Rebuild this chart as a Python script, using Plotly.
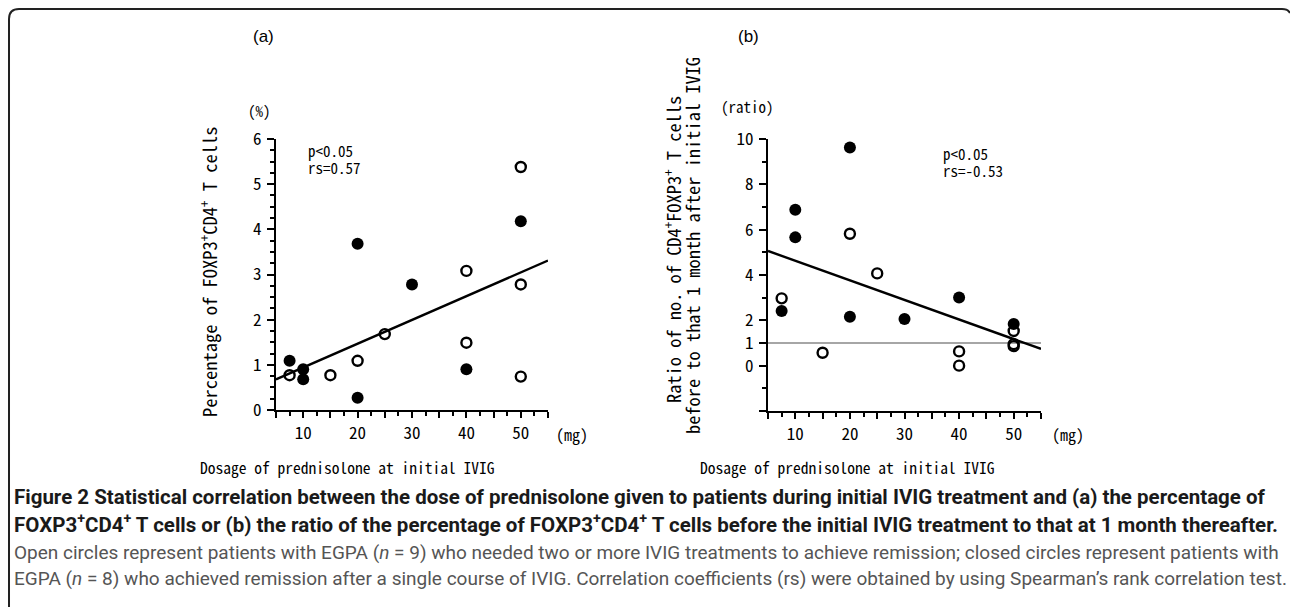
import plotly.graph_objects as go

# ---------------- data ----------------
# Panel (a): percentage of FOXP3+CD4+ T cells vs prednisolone dose (mg)
a_closed_x = [7.5, 10, 10, 20, 20, 30, 40, 50]
a_closed_y = [1.09, 0.90, 0.68, 3.68, 0.27, 2.78, 0.90, 4.18]
a_open_x = [7.5, 15, 20, 25, 40, 40, 50, 50, 50]
a_open_y = [0.77, 0.77, 1.09, 1.68, 3.08, 1.49, 5.38, 2.78, 0.74]
a_fit_x = [5, 55]
a_fit_y = [0.68, 3.31]

# Panel (b): ratio before / 1 month after initial IVIG
b_closed_x = [7.5, 10, 10, 20, 20, 30, 40, 50]
b_closed_y = [2.41, 6.88, 5.66, 9.63, 2.16, 2.06, 3.01, 1.84]
b_open_x = [7.5, 15, 20, 25, 40, 40, 50, 50, 50]
b_open_y = [2.97, 0.57, 5.82, 4.07, 0.63, 0.00, 1.53, 0.95, 0.86]
b_fit_x = [5, 55]
b_fit_y = [5.06, 0.74]
b_ref_x = [5, 55]
b_ref_y = [1, 1]

x_tickvals = [5, 10, 15, 20, 25, 30, 35, 40, 45, 50, 55]
x_ticktext = ["", "10", "", "20", "", "30", "", "40", "", "50", ""]
a_y_tickvals = [0, 1, 2, 3, 4, 5, 6]
a_y_ticktext = ["0", "1", "2", "3", "4", "5", "6"]
b_y_tickvals = [-2, 0, 1, 2, 4, 6, 8, 10]
b_y_ticktext = ["", "0", "1", "2", "4", "6", "8", "10"]

# ---------------- layout helpers ----------------
W, H = 1290, 607
def px(x):
    return x / W
def py(y):
    return 1 - y / H

MONO = "Noto Sans Mono CJK JP, Noto Sans Mono CJK SC, DejaVu Sans Mono, monospace"
CAP = "Roboto, Liberation Sans, sans-serif"

closed_marker = dict(symbol="circle", size=12, color="black")
open_marker = dict(symbol="circle-open", size=10, color="black", line=dict(width=2.4, color="black"))

fig = go.Figure()
# panel a
fig.add_trace(go.Scatter(x=a_fit_x, y=a_fit_y, mode="lines", line=dict(color="black", width=2.4),
                         xaxis="x", yaxis="y", showlegend=False, hoverinfo="skip"))
fig.add_trace(go.Scatter(x=a_closed_x, y=a_closed_y, mode="markers", marker=closed_marker,
                         xaxis="x", yaxis="y", showlegend=False, cliponaxis=False))
fig.add_trace(go.Scatter(x=a_open_x, y=a_open_y, mode="markers", marker=open_marker,
                         xaxis="x", yaxis="y", showlegend=False, cliponaxis=False))
# panel b
fig.add_trace(go.Scatter(x=b_ref_x, y=b_ref_y, mode="lines", line=dict(color="#a6a6a6", width=2),
                         xaxis="x2", yaxis="y2", showlegend=False, hoverinfo="skip"))
fig.add_trace(go.Scatter(x=b_fit_x, y=b_fit_y, mode="lines", line=dict(color="black", width=2.4),
                         xaxis="x2", yaxis="y2", showlegend=False, hoverinfo="skip"))
fig.add_trace(go.Scatter(x=b_closed_x, y=b_closed_y, mode="markers", marker=closed_marker,
                         xaxis="x2", yaxis="y2", showlegend=False, cliponaxis=False))
fig.add_trace(go.Scatter(x=b_open_x, y=b_open_y, mode="markers", marker=open_marker,
                         xaxis="x2", yaxis="y2", showlegend=False, cliponaxis=False))

tickfont = dict(family=MONO, size=17, color="black")

def xaxis_cfg(domain, anchor):
    return dict(domain=domain, anchor=anchor, range=[5, 55], showgrid=False, zeroline=False,
                showline=True, linecolor="black", linewidth=2, automargin=False,
                tickmode="array", tickvals=x_tickvals, ticktext=x_ticktext,
                ticks="outside", ticklen=6, tickwidth=2, tickcolor="black",
                minor=dict(tick0=0, dtick=2.5, ticks="outside", ticklen=4, tickwidth=1.5, tickcolor="black"),
                tickfont=tickfont, ticklabelstandoff=1, fixedrange=True)

def yaxis_cfg(domain, anchor, rng, tv, tt, mdt):
    return dict(domain=domain, anchor=anchor, range=rng, showgrid=False, zeroline=False,
                showline=True, linecolor="black", linewidth=2, automargin=False,
                tickmode="array", tickvals=tv, ticktext=tt,
                ticks="outside", ticklen=7, tickwidth=2, tickcolor="black",
                minor=dict(dtick=mdt, ticks="outside", ticklen=4, tickwidth=1.5, tickcolor="black"),
                tickfont=tickfont, ticklabelstandoff=2, fixedrange=True)

annotations = []
def ann(x, y, text, size=17, family=MONO, xanchor="center", yanchor="middle", angle=0, color="black", weight=None):
    f = dict(family=family, size=size, color=color)
    if weight:
        f["weight"] = weight
    annotations.append(dict(x=px(x), y=py(y), xref="paper", yref="paper", text=text, showarrow=False,
                            xanchor=xanchor, yanchor=yanchor, textangle=angle, font=f))

# panel labels
ann(263, 37, "(a)", size=17, family="Liberation Sans, Arial, sans-serif")
ann(748, 37, "(b)", size=17, family="Liberation Sans, Arial, sans-serif")
# units
ann(259, 110, "(%)", size=15)
ann(747, 106, "(ratio)", size=15)
ann(572, 434, "(mg)", size=16)
ann(1068, 434, "(mg)", size=16)
# stats
ann(306, 151, "p&lt;0.05", size=15, xanchor="left")
ann(306, 168, "rs=0.57", size=15, xanchor="left")
ann(941, 153, "p&lt;0.05", size=15, xanchor="left")
ann(941, 170, "rs=-0.53", size=15, xanchor="left")
# y titles
ann(208, 272, "Percentage of FOXP3<sup>+</sup>CD4<sup>+</sup> T cells", size=18.5, angle=-90)
ann(672, 250, "Ratio of no. of CD4<sup>+</sup>FOXP3<sup>+</sup> T cells", size=18.4, angle=-90)
ann(692, 246, "before to that 1 month after initial IVIG", size=18.4, angle=-90)
# x titles
ann(347, 467, "Dosage of prednisolone at initial IVIG", size=15.5)
ann(847, 467, "Dosage of prednisolone at initial IVIG", size=15.5)

# caption
cap1 = ("Figure 2 Statistical correlation between the dose of prednisolone given to patients during initial "
        "IVIG treatment and (a) the percentage of")
cap2 = ("FOXP3<sup>+</sup>CD4<sup>+</sup> T cells or (b) the ratio of the percentage of FOXP3<sup>+</sup>CD4<sup>+</sup> "
        "T cells before the initial IVIG treatment to that at 1 month thereafter.")
cap3 = ("Open circles represent patients with EGPA (<i>n</i> = 9) who needed two or more IVIG treatments to "
        "achieve remission; closed circles represent patients with")
cap4 = ("EGPA (<i>n</i> = 8) who achieved remission after a single course of IVIG. Correlation coefficients (rs) "
        "were obtained by using Spearman\u2019s rank correlation test.")
ann(12, 497, cap1, size=20.5, family=CAP, xanchor="left", weight="bold", color="#1a1a1a")
ann(12, 523, cap2, size=20.5, family=CAP, xanchor="left", weight="bold", color="#1a1a1a")
ann(12, 552, cap3, size=19, family=CAP, xanchor="left", color="#555555")
ann(12, 578, cap4, size=19, family=CAP, xanchor="left", color="#555555")

# rounded frame
def pt(x, y):
    return f"{px(x):.5f},{py(y):.5f}"
frame_path = (f"M {pt(9, 607)} L {pt(9, 19)} Q {pt(9, 9)} {pt(19, 9)} "
              f"L {pt(1282, 9)} Q {pt(1288, 9)} {pt(1290, 13)}")

fig.update_layout(
    width=W, height=H, autosize=False,
    margin=dict(l=0, r=0, t=0, b=0, pad=0),
    paper_bgcolor="white", plot_bgcolor="white",
    xaxis=xaxis_cfg([px(276), px(548)], "y"),
    yaxis=yaxis_cfg([py(410), py(139)], "x", [0, 6], a_y_tickvals, a_y_ticktext, 0.25),
    xaxis2=xaxis_cfg([px(768), px(1041)], "y2"),
    yaxis2=yaxis_cfg([py(411), py(139)], "x2", [-2, 10], b_y_tickvals, b_y_ticktext, 1),
    annotations=annotations,
    shapes=[dict(type="path", xref="paper", yref="paper", path=frame_path,
                 line=dict(color="#222222", width=2))],
    showlegend=False,
)

fig.write_html("out.html", config={"displayModeBar": False},
               post_script="document.body.style.margin='0px';document.body.style.overflow='hidden';")
